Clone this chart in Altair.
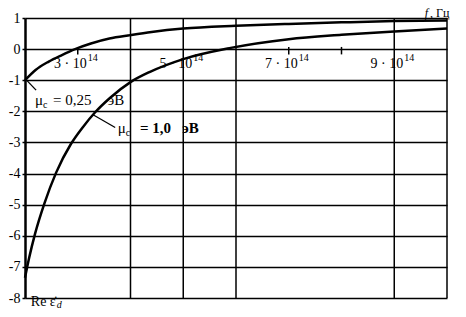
import altair as alt
import pandas as pd

# frequencies in units of 1e14 Hz
f_mu025 = [2.0, 2.2, 2.45, 2.7, 2.95, 3.25, 3.6, 4.0, 4.4, 5.0, 6.0, 7.0, 8.0, 9.0, 10.0]
v_mu025 = [-1.0, -0.67, -0.40, -0.19, 0.0, 0.18, 0.34, 0.45, 0.55, 0.66, 0.75, 0.81, 0.86, 0.90, 0.92]

f_mu1 = [2.0, 2.08, 2.19, 2.37, 2.59, 2.87, 3.1, 3.33, 3.61, 4.0, 4.37, 5.0, 5.9, 7.0, 8.0, 9.0, 10.0]
v_mu1 = [-7.35, -6.7, -5.94, -4.95, -3.97, -3.05, -2.5, -2.03, -1.57, -1.06, -0.73, -0.32, 0.04, 0.32, 0.46, 0.57, 0.66]

vgrid_f = [4, 5, 6, 9, 10]
small_tick_f = [3, 7, 8]
tick_label_f = [3, 5, 7, 9]
tick_label_base = ["3 · 10", "5 · 10", "7 · 10", "9 · 10"]
tick_label_exp = ["14", "14", "14", "14"]
y_ticks = list(range(-8, 2))

FONT = "Liberation Serif"

curves = pd.DataFrame(
    {"f": f_mu025 + f_mu1,
     "v": v_mu025 + v_mu1,
     "s": ["0.25"] * len(f_mu025) + ["1.0"] * len(f_mu1)}
)

x_enc = alt.X("f:Q", scale=alt.Scale(domain=[2, 10], nice=False, zero=False), axis=None)
y_axis = alt.Axis(values=y_ticks, grid=True, gridColor="black", gridWidth=1.5, gridOpacity=1,
                  domainColor="black", domainWidth=2.5, tickColor="black", tickSize=3,
                  tickWidth=1.5, labelPadding=2, labelFont=FONT, labelFontSize=14,
                  labelColor="black", labelOverlap=False, labelExpr="'' + datum.value",
                  title=None)
y_enc = alt.Y("v:Q", scale=alt.Scale(domain=[-8, 1], nice=False, zero=False), axis=y_axis)


def txt(df, size=14, align="left", **kw):
    return alt.Chart(df).mark_text(font=FONT, fontSize=size, align=align, baseline="alphabetic",
                                   color="black", **kw).encode(x=x_enc, y=y_enc, text="t:N")


lines = alt.Chart(curves).mark_line(color="black", strokeWidth=2.5, interpolate="monotone").encode(
    x=x_enc, y=y_enc, detail="s:N"
)

vgrid = alt.Chart(pd.DataFrame({"f": vgrid_f})).mark_rule(color="black", strokeWidth=1.5).encode(x=x_enc)

small_ticks = alt.Chart(pd.DataFrame({"f": small_tick_f, "v": [0.07] * 3, "v2": [-0.17] * 3})).mark_rule(
    color="black", strokeWidth=1.5).encode(x=x_enc, y=y_enc, y2="v2:Q")

tl_base = pd.DataFrame({"f": tick_label_f, "v": [-0.61] * 4, "t": tick_label_base})
tl_exp = pd.DataFrame({"f": tick_label_f, "v": [-0.61] * 4, "t": tick_label_exp})
tick_base = txt(tl_base, 14, "right", dx=9)
tick_exp = txt(tl_exp, 10, "left", dx=10, dy=-7)

# leader lines from curves to labels
leaders = pd.DataFrame({"f": [2.02, 3.29], "v": [-0.98, -2.11], "f2": [2.21, 3.71], "v2": [-1.32, -2.52]})
leader_rules = alt.Chart(leaders).mark_rule(color="black", strokeWidth=1.3).encode(
    x=x_enc, y=y_enc, x2="f2:Q", y2="v2:Q"
)

# curve labels
t_mu = txt(pd.DataFrame({"f": [2.19, 3.76], "v": [-1.80, -2.70], "t": ["μ", "μ"]}), 15)
t_sub = txt(pd.DataFrame({"f": [2.34, 3.91], "v": [-1.89, -2.79], "t": ["c", "c"]}), 10)
t_eq1 = txt(pd.DataFrame({"f": [2.53], "v": [-1.80], "t": ["= 0,25"]}), 15)
t_ev1 = txt(pd.DataFrame({"f": [3.57], "v": [-1.80], "t": ["эВ"]}), 15)
t_eq2 = txt(pd.DataFrame({"f": [4.18], "v": [-2.70], "t": ["= 1,0"]}), 15, fontWeight="bold")
t_ev2 = txt(pd.DataFrame({"f": [4.98], "v": [-2.70], "t": ["эВ"]}), 15, fontWeight="bold")

# axis titles
t_f1 = txt(pd.DataFrame({"f": [9.58], "v": [1.048], "t": ["f"]}), 12, fontStyle="italic")
t_f2 = txt(pd.DataFrame({"f": [9.68], "v": [1.048], "t": [", Гц"]}), 12)
t_y1 = txt(pd.DataFrame({"f": [2.11], "v": [-8.26], "t": ["Re ε̇"]}), 14)
t_y2 = txt(pd.DataFrame({"f": [2.6], "v": [-8.31], "t": ["d"]}), 10, fontStyle="italic")

chart = alt.layer(
    vgrid, small_ticks, lines, leader_rules, tick_base, tick_exp,
    t_mu, t_sub, t_eq1, t_ev1, t_eq2, t_ev2, t_f1, t_f2, t_y1, t_y2
).properties(
    width=422, height=280,
    autosize=alt.AutoSizeParams(type="none"),
    padding={"left": 17, "top": 10, "right": 11, "bottom": 11},
    background="white",
).configure_view(stroke=None)

chart.save("out.html", embed_options={"renderer": "svg", "actions": False})
